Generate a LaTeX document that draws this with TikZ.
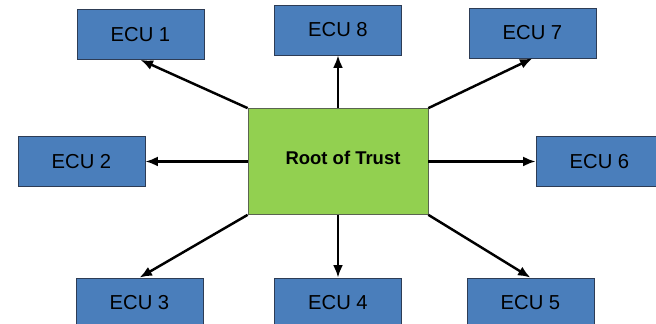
\documentclass[tikz,border=0pt]{standalone}
\usepackage{fontspec}
\setmainfont{Liberation Sans}
\usetikzlibrary{arrows.meta}

\definecolor{ecublue}{RGB}{74,126,187}
\definecolor{ecuedge}{RGB}{45,60,85}
\definecolor{rotgreen}{RGB}{146,208,80}
\definecolor{rotedge}{RGB}{90,100,80}

\begin{document}
\begin{tikzpicture}[
   ecu/.style={draw=ecuedge,fill=ecublue,minimum width=2.54cm,minimum height=1cm,font=\fontsize{11.5}{13}\selectfont,inner sep=0pt},
   rot/.style={draw=rotedge,fill=rotgreen,minimum width=3.6cm,minimum height=2.12cm,inner sep=0pt},
   link/.style={-{Latex[length=2.5mm,width=2mm]},line width=1.4pt}]
  \useasboundingbox (0,0) rectangle (13.12,6.48);
  \node[rot] (R) at (6.76,3.25) {};
  \node[font=\bfseries\fontsize{10.5}{12}\selectfont] (RT) at (6.86,3.33) {Root of Trust};
  \node[ecu] (E1) at (2.81,5.79) {ECU 1};
  \node[ecu] (E8) at (6.76,5.88) {ECU 8};
  \node[ecu] (E7) at (10.65,5.82) {ECU 7};
  \node[ecu] (E2) at (1.63,3.25) {ECU 2};
  \node[ecu] (E6) at (11.99,3.25) {ECU 6};
  \node[ecu] (E3) at (2.79,0.42) {ECU 3};
  \node[ecu] (E4) at (6.76,0.42) {ECU 4};
  \node[ecu] (E5) at (10.61,0.42) {ECU 5};
  \draw[link] (R.north west) -- (E1.south);
  \draw[link] (R.north) -- (E8.south);
  \draw[link] (R.north east) -- (E7.south);
  \draw[link] (R.west) -- (E2.east);
  \draw[link] (R.east) -- (E6.west);
  \draw[link] (R.south west) -- (E3.north);
  \draw[link] (R.south) -- (E4.north);
  \draw[link] (R.south east) -- (E5.north);
 \end{tikzpicture}
\end{document}
